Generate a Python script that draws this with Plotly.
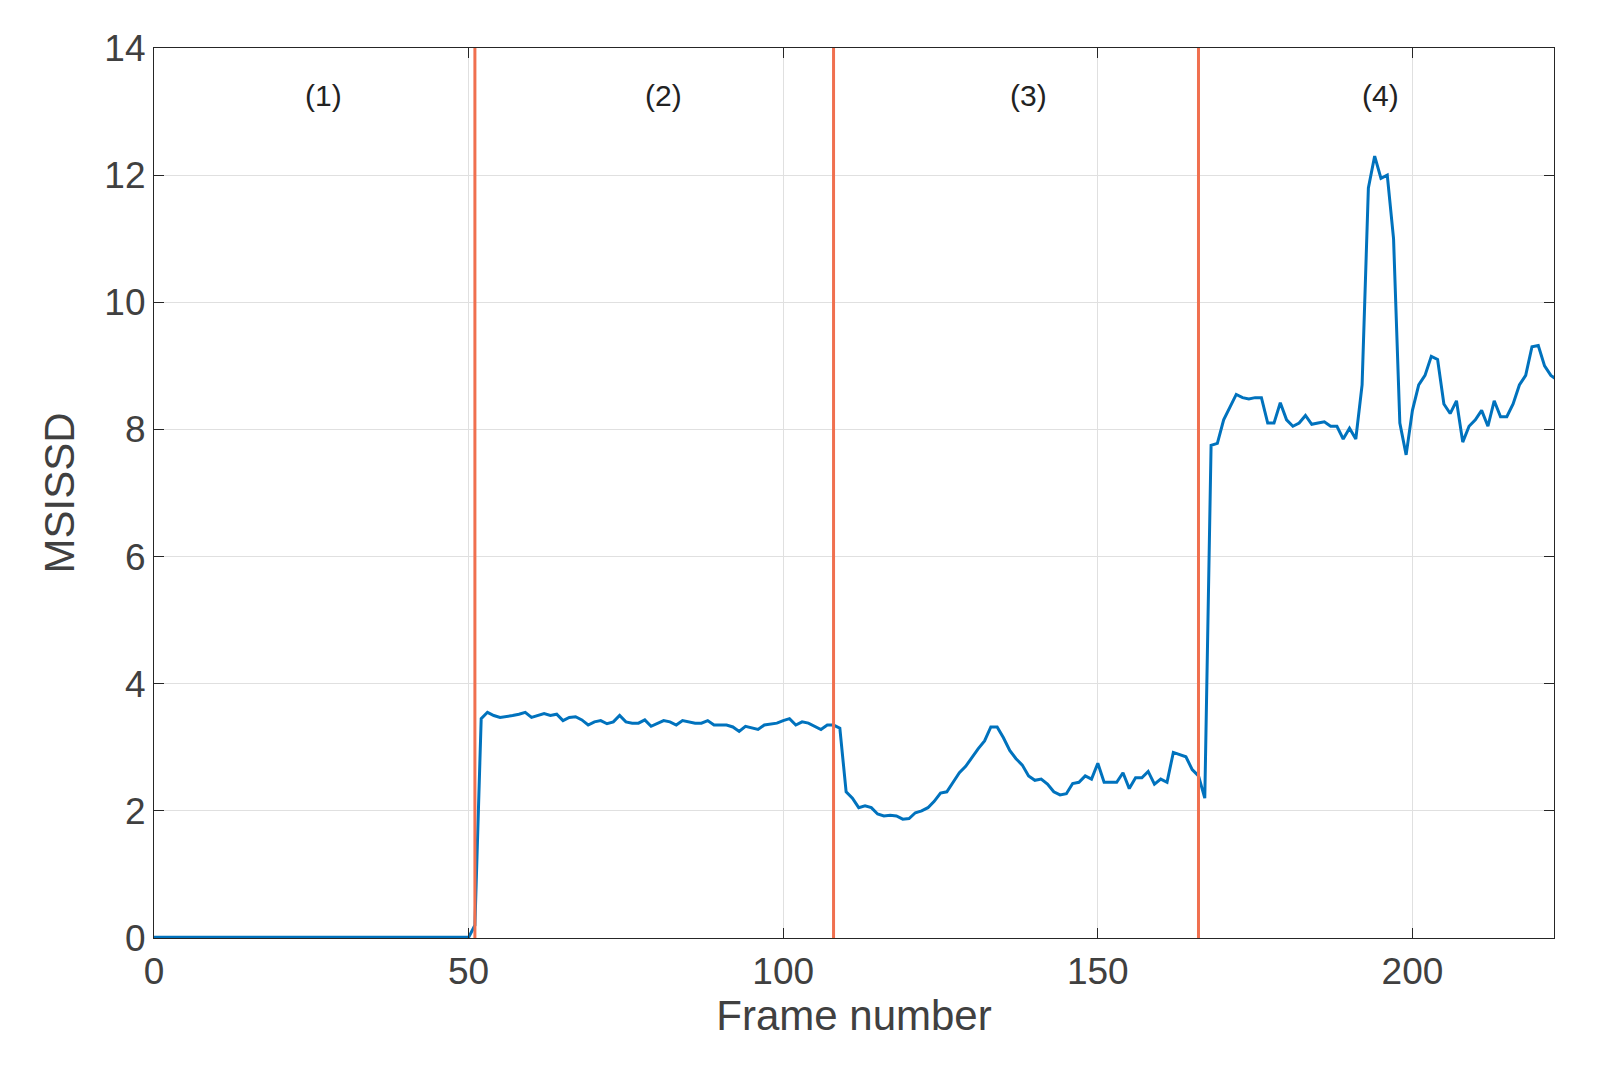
import plotly.graph_objects as go

sec1 = [0.01]*51
sec2_start = [0.2]
sec2 = [3.45,3.55,3.5,3.47,3.48,3.5,3.52,3.55,3.47,3.5,3.53,3.5,3.52,3.42,3.47,3.48,3.43,3.35,3.4,3.42,3.37,3.4,3.5,3.4,3.38,3.38,3.43,3.33,3.38,3.42,3.4,3.35,3.42,3.4,3.38,3.38,3.42,3.35,3.35,3.35,3.32,3.25,3.33,3.3,3.28,3.35,3.36,3.38,3.42,3.45,3.35,3.4,3.38,3.33,3.28,3.35,3.35]
sec3 = [3.3,2.3,2.2,2.05,2.08,2.05,1.95,1.92,1.93,1.92,1.87,1.88,1.97,2.0,2.05,2.15,2.28,2.3,2.45,2.6,2.7,2.85,2.98,3.1,3.32,3.32,3.15,2.95,2.82,2.72,2.55,2.48,2.5,2.42,2.3,2.25,2.27,2.43,2.45,2.55,2.5,2.75,2.45,2.45,2.45,2.6,2.35,2.52,2.52,2.62,2.42,2.5,2.45,2.92,2.88,2.85,2.65,2.55,2.2]
sec4 = [7.75,7.78,8.15,8.35,8.55,8.5,8.48,8.5,8.5,8.1,8.1,8.42,8.15,8.05,8.1,8.22,8.08,8.1,8.12,8.05,8.05,7.85,8.02,7.85,8.7,11.8,12.3,11.95,12.0,11.0,8.1,7.6,8.3,8.7,8.85,9.15,9.1,8.4,8.25,8.45,7.8,8.05,8.15,8.3,8.05,8.45,8.2,8.2,8.4,8.7,8.85,9.3,9.32,9.0,8.85,8.78]
values = sec1 + sec2_start + sec2 + sec3 + sec4
frames = list(range(len(values)))
boundaries = [51, 108, 166]
labels = ["(1)", "(2)", "(3)", "(4)"]
label_x = [27, 81, 139, 195]

fig = go.Figure()
fig.add_trace(go.Scatter(x=frames, y=values, mode="lines", line=dict(color="#0072BD", width=3)))
for b in boundaries:
    fig.add_shape(type="line", x0=b, x1=b, y0=0, y1=14, xref="x", yref="y",
                  line=dict(color="#F0704F", width=3))
for lx, lt in zip(label_x, labels):
    fig.add_annotation(x=lx, y=13.25, text=lt, showarrow=False,
                       font=dict(size=30, color="#222"))

ax = dict(showline=True, mirror="ticks", linecolor="#262626", linewidth=1.2,
          ticks="inside", ticklen=10, tickcolor="#262626", showgrid=True,
          gridcolor="#E0E0E0", zeroline=False, tickfont=dict(size=37, color="#404040"))
fig.update_xaxes(range=[0, 222.5], tickvals=[0,50,100,150,200],
                 title=dict(text="Frame number", font=dict(size=42, color="#404040"), standoff=10), **ax)
fig.update_yaxes(range=[0, 14], tickvals=list(range(0, 15, 2)),
                 title=dict(text="MSISSD", font=dict(size=42, color="#404040"), standoff=16), **ax)
fig.update_layout(width=1598, height=1076, showlegend=False, plot_bgcolor="white",
                  paper_bgcolor="white", font=dict(family="Liberation Sans, Arial"),
                  margin=dict(l=146, r=52, t=40, b=146))
fig.write_html("out.html")
